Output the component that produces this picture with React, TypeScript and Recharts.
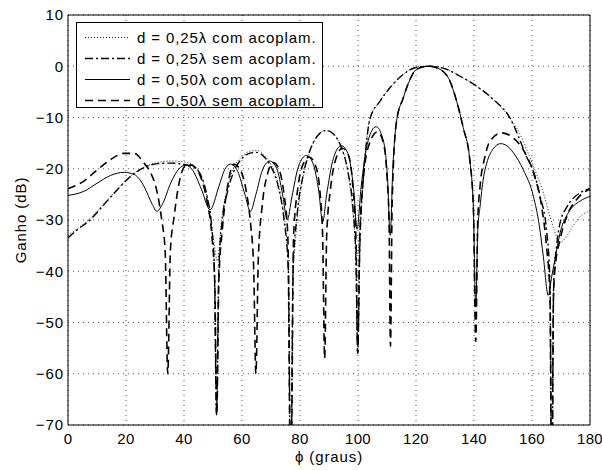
import React from 'react';
import { LineChart, Line, XAxis, YAxis, CartesianGrid, Legend } from 'recharts';

// ---------- data ----------
const phiTicks = [0, 20, 40, 60, 80, 100, 120, 140, 160, 180];
const gainTicks = [-70, -60, -50, -40, -30, -20, -10, 0, 10];

const seriesNames = [
  'd = 0,25λ com acoplam.',
  'd = 0,25λ sem acoplam.',
  'd = 0,50λ com acoplam.',
  'd = 0,50λ sem acoplam.',
];

// [phi (graus), ganho (dB)]
const d025Com: [number, number][] = [
  [0, -33], [3, -31.8], [7.8, -29.6], [12.4, -26.8], [17, -24], [21.6, -21.4], [26.2, -19.7],
  [30.8, -18.8], [35.4, -18.5], [39.4, -18.6], [43, -19.3], [46, -21.5], [48.5, -27], [50.5, -35],
  [51.5, -38], [53, -30], [55, -23.5], [57, -20], [60, -17.6], [62.5, -16.6], [65, -16.4],
  [67.5, -17.2], [70, -19.2], [72.5, -23], [74.5, -29], [76.5, -38], [77.5, -38], [79.5, -27],
  [81.5, -20.5], [84, -15.8], [86.5, -13.3], [89, -12.6], [91.5, -13.2], [94, -15.5], [96.5, -20.5],
  [98.5, -30], [99.7, -37], [101, -28], [102.5, -17], [104.1, -10.3], [107.6, -6.8], [111, -4.2],
  [115.6, -1.6], [120.2, -0.2], [124.8, 0], [130.6, -0.6], [135.2, -1.95], [140.9, -3.9],
  [146.7, -6.5], [152.4, -10.1], [155.9, -13.3], [158, -16], [160.5, -19.5], [163.9, -24.7],
  [166.2, -29.3], [168, -32.5], [169.3, -34.5], [171.9, -33.2], [174, -31.3], [176.6, -29.3],
  [180, -28.3],
];

const d025Sem: [number, number][] = [
  [0, -33.5], [3, -32], [7.8, -29.9], [12.4, -27], [17, -24.1], [21.6, -21.5], [26.2, -19.8],
  [30.8, -19.0], [35.4, -18.9], [39.4, -19.1], [43, -19.6], [46, -21.5], [48, -25.5], [49.5, -31],
  [50.5, -40], [51.2, -68], [52, -40], [53, -31], [55, -24.5], [57, -20.8], [60, -18], [62.5, -17],
  [65, -16.8], [67.5, -17.6], [70, -19.6], [72.5, -23.5], [74.5, -30], [76, -40], [76.8, -85],
  [77.6, -40], [79, -29], [81, -21.5], [83.5, -16.3], [86, -13.6], [89, -12.5], [91.5, -13.2],
  [94, -15.5], [96.5, -20.5], [98.3, -28], [99.3, -38], [99.9, -56], [100.6, -36], [101.8, -22],
  [102.8, -15.5], [104.1, -10.3], [107.6, -6.8], [111, -4.2], [115.6, -1.6], [120.2, -0.2],
  [124.8, 0], [130.6, -0.6], [135.2, -1.95], [140.9, -3.9], [146.7, -6.5], [152.4, -10.1],
  [155.9, -14.5], [158, -17.5], [160.5, -20.5], [162.8, -25.4], [165, -31.9], [166.2, -42],
  [166.8, -85], [167.5, -42], [168.5, -35], [169.7, -30.5], [172, -27.5], [176.6, -24.7], [180, -23.9],
];

const d050Com: [number, number][] = [
  [0, -25.2], [5.5, -24.4], [10.1, -22.8], [14.7, -21.3], [19.3, -20.7], [22.8, -21.1], [26.2, -23.4],
  [29.1, -27], [30.6, -28.3], [32.5, -27], [35.4, -22.8], [38.3, -20], [40.5, -19.3], [43, -20.3],
  [46, -24], [49, -28], [52, -23.5], [54, -20.2], [56, -19.1], [58.5, -20.5], [61, -25], [62.9, -28.3],
  [64.8, -25], [67, -20.3], [69.6, -18.5], [72, -20], [74, -25], [75.6, -30], [77.2, -25.5],
  [79.5, -19.5], [82.2, -17.4], [84.5, -19], [86.5, -24.5], [87.8, -30.4], [89.2, -25], [91.5, -18],
  [94.2, -15.5], [96.5, -17], [98.5, -24], [99.7, -31.8], [101, -24], [103.5, -14.5], [106.2, -11.8],
  [108.5, -14], [110.2, -22], [111.1, -33], [112, -20], [113.3, -10.7], [115.6, -6.2], [117.9, -2.6],
  [120.2, -0.6], [124.3, 0], [128.3, -0.6], [131.7, -2.9], [134, -6.8], [136.3, -12], [138.6, -18.5],
  [139.8, -28], [140.6, -47], [141.3, -32], [142.1, -27.3], [143.2, -22], [144.4, -18.9],
  [146.5, -16.2], [149.2, -15.1], [151.5, -15.6], [153.6, -16.9], [157, -20.2], [160.5, -25.4],
  [162.5, -31], [163.9, -37.1], [165.6, -44.7], [166.8, -41], [167.9, -37.7], [169.7, -32.5],
  [172.5, -28.6], [176.6, -26.3], [180, -25.4],
];

const d050Sem: [number, number][] = [
  [0, -23.9], [5.5, -22.4], [10.1, -20.2], [14.7, -18.2], [19.3, -17.0], [22.8, -17.0], [26.2, -18.9],
  [28.5, -20.8], [30.5, -24], [32.3, -29.9], [33.5, -36], [34.4, -60], [35.3, -36], [36.6, -29.3],
  [38.3, -22.8], [40.2, -19.6], [42, -19.2], [44, -19.8], [46, -22], [48, -26.5], [49.6, -33],
  [50.6, -42], [51.3, -68], [52, -42], [53.2, -32], [55, -23.5], [57.2, -19.1], [59.5, -20.3],
  [61.5, -24.5], [63, -31], [64, -39], [64.8, -60], [65.6, -38], [67, -27], [68.8, -21],
  [70.8, -18.8], [72.8, -20.2], [74.5, -25], [75.8, -33], [76.8, -85], [77.8, -33], [79.2, -24],
  [81, -19.2], [83.2, -17.7], [85.3, -19.3], [86.8, -24], [87.8, -33], [88.5, -57], [89.2, -33],
  [90.5, -24], [92.3, -18.2], [94.6, -16], [96.8, -17.5], [98.3, -24], [99.3, -34], [99.9, -56],
  [100.6, -34], [102, -21], [104, -15], [106.7, -12.8], [108.8, -15], [110, -21.5], [110.7, -30],
  [111.2, -54.6], [111.8, -26], [113.3, -10.7], [115.6, -6.2], [117.9, -2.6], [120.2, -0.6],
  [124.3, 0], [128.3, -0.6], [131.7, -2.9], [134, -6.8], [136.3, -12], [138.6, -18.5], [139.8, -28],
  [140.6, -53.7], [141.3, -30], [142.1, -23.4], [143.8, -17.6], [145.5, -14.6], [149.5, -13.0],
  [153.6, -14], [157, -16.3], [160.5, -20.8], [163.3, -27.3], [165, -35.1], [166.2, -44.9],
  [166.8, -85], [167.4, -45], [167.9, -39.7], [169.7, -33.8], [172, -29.3], [175.4, -26], [180, -23.9],
];

const seriesPoints = [d025Com, d025Sem, d050Com, d050Sem];

// ---------- styles ----------
const seriesStyles = [
  { color: '#222', width: 1, dash: '1 2' },
  { color: '#000', width: 1.4, dash: '8 3 2 3' },
  { color: '#000', width: 1, dash: undefined as string | undefined },
  { color: '#000', width: 1.6, dash: '8 5' },
];

const FONT_FAMILY = '"Liberation Sans", Arial, Helvetica, sans-serif';
const FONT = { fontFamily: FONT_FAMILY, fontSize: 15, letterSpacing: 0.9 };
const TICK_FONT = { fontFamily: FONT_FAMILY, fontSize: 15, letterSpacing: 0.3 };

const fmtGain = (v: number) => (v < 0 ? `\u2212${Math.abs(v)}` : `${v}`);

const LegendBox = () => (
  <svg width={247} height={86} style={{ display: 'block' }}>
    <rect x={0.5} y={0.5} width={246} height={85} fill="#fff" stroke="#000" strokeWidth={1} />
    {seriesNames.map((name, i) => {
      const st = seriesStyles[i];
      const cy = 15.5 + 21 * i;
      return (
        <g key={name}>
          <line x1={9} x2={54} y1={cy} y2={cy} stroke={st.color} strokeWidth={st.width} strokeDasharray={st.dash} />
          <text x={61} y={cy} dy="0.36em" fill="#000" style={FONT}>
            {name}
          </text>
        </g>
      );
    })}
  </svg>
);

export default function App() {
  return (
    <div style={{ position: 'absolute', left: 0, top: 0, width: 602, height: 470, overflow: 'hidden' }}>
      <LineChart width={602} height={470} margin={{ top: 15, right: 12, bottom: 0, left: 8 }}>
        <CartesianGrid xAxisId="b" yAxisId="l" stroke="#555" strokeDasharray="1 4" />
        <XAxis
          xAxisId="b"
          dataKey="phi"
          type="number"
          domain={[0, 180]}
          ticks={phiTicks}
          interval={0}
          allowDataOverflow
          height={45}
          tickLine={false}
          tickSize={6}
          tickMargin={2}
          axisLine={{ stroke: '#000' }}
          tick={{ fill: '#000', ...TICK_FONT }}
          label={{ value: 'ϕ (graus)', position: 'insideBottom', offset: 8, fill: '#000', style: FONT }}
        />
        <XAxis
          xAxisId="bm"
          dataKey="phi"
          type="number"
          orientation="bottom"
          mirror
          domain={[0, 180]}
          ticks={phiTicks}
          interval={0}
          allowDataOverflow
          tick={false}
          tickSize={5}
          tickLine={{ stroke: '#000' }}
          axisLine={false}
        />
        <XAxis
          xAxisId="t"
          dataKey="phi"
          type="number"
          orientation="top"
          mirror
          domain={[0, 180]}
          ticks={phiTicks}
          interval={0}
          allowDataOverflow
          tick={false}
          tickSize={5}
          tickLine={{ stroke: '#000' }}
          axisLine={{ stroke: '#000' }}
        />
        <YAxis
          yAxisId="l"
          type="number"
          domain={[-70, 10]}
          ticks={gainTicks}
          interval={0}
          allowDataOverflow
          width={60}
          tickLine={false}
          tickSize={3}
          tickMargin={1}
          axisLine={{ stroke: '#000' }}
          tick={{ fill: '#000', ...FONT }}
          tickFormatter={fmtGain}
          label={{
            value: 'Ganho (dB)',
            angle: -90,
            position: 'insideLeft',
            offset: 13,
            fill: '#000',
            style: { ...FONT, textAnchor: 'middle' },
          }}
        />
        <YAxis
          yAxisId="lm"
          type="number"
          orientation="left"
          mirror
          domain={[-70, 10]}
          ticks={gainTicks}
          interval={0}
          allowDataOverflow
          tick={false}
          tickSize={5}
          tickLine={{ stroke: '#000' }}
          axisLine={false}
        />
        <YAxis
          yAxisId="r"
          type="number"
          orientation="right"
          mirror
          domain={[-70, 10]}
          ticks={gainTicks}
          interval={0}
          allowDataOverflow
          tick={false}
          tickSize={5}
          tickLine={{ stroke: '#000' }}
          axisLine={{ stroke: '#000' }}
        />
        <Legend
          layout="horizontal"
          verticalAlign="middle"
          align="center"
          wrapperStyle={{ left: 76, top: 22, width: 247, height: 86, lineHeight: 0 }}
          content={() => <LegendBox />}
        />
        {seriesPoints.map((pts, i) => (
          <Line
            key={seriesNames[i]}
            xAxisId="b"
            yAxisId="l"
            name={seriesNames[i]}
            data={pts.map(([phi, gain]) => ({ phi, gain }))}
            dataKey="gain"
            type="monotone"
            stroke={seriesStyles[i].color}
            strokeWidth={seriesStyles[i].width}
            strokeDasharray={seriesStyles[i].dash}
            dot={false}
            activeDot={false}
            isAnimationActive={false}
          />
        ))}
      </LineChart>
    </div>
  );
}
